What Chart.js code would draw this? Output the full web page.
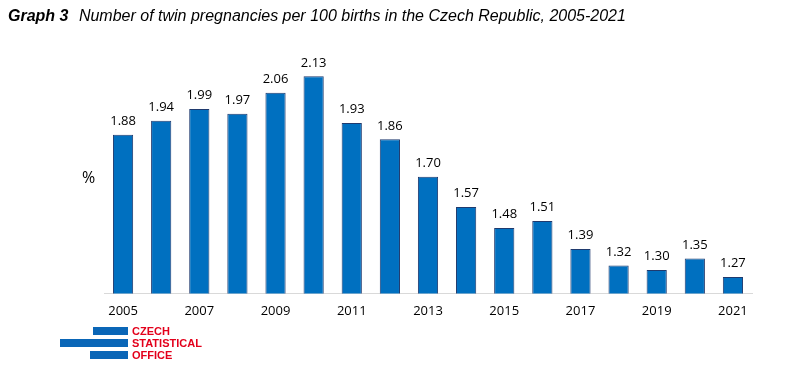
<!DOCTYPE html>
<html>
<head>
<meta charset="utf-8">
<script src="https://cdn.jsdelivr.net/npm/chart.js@4"></script>
<style>
  body { margin: 0; background: #fff; }
  #wrap { position: relative; width: 800px; height: 382px; overflow: hidden; }
  #chart { position: absolute; left: 0; top: 0; }
  .title { position: absolute; left: 8px; top: 7px; font: italic 16px "Liberation Sans", Arial, sans-serif; color: #000; white-space: nowrap; }
  .title b { margin-right: 6px; }
  .unit { position: absolute; left: 82px; top: 166px; font: 16px "Open Sans", sans-serif; color: #000; }
  .logo-bar { position: absolute; background: #0a66b7; height: 8px; }
  .logo-txt { position: absolute; left: 132px; font: bold 11px "Liberation Sans", Arial, sans-serif; color: #e3001b; line-height: 12px; }
</style>
</head>
<body>
<div id="wrap">
  <canvas id="chart" width="800" height="382"></canvas>
  <div class="title"><b>Graph 3</b> Number of twin pregnancies per 100 births in the Czech Republic, 2005-2021</div>
  <div class="unit">%</div>
  <div class="logo-bar" style="left:93px; top:327px; width:35px;"></div>
  <div class="logo-bar" style="left:60px; top:339px; width:68px;"></div>
  <div class="logo-bar" style="left:90px; top:351px; width:38px;"></div>
  <div class="logo-txt" style="top:325px;">CZECH<br>STATISTICAL<br>OFFICE</div>
</div>
<script>
// 数据
const years = ['2005', '2006', '2007', '2008', '2009', '2010', '2011', '2012', '2013',
               '2014', '2015', '2016', '2017', '2018', '2019', '2020', '2021'];
const twinRates = [1.88, 1.94, 1.99, 1.97, 2.06, 2.13, 1.93, 1.86, 1.70,
                   1.57, 1.48, 1.51, 1.39, 1.32, 1.30, 1.35, 1.27];
const yMin = 1.2;
const yMax = 2.2;

// 柱顶数值标签
const valueLabels = {
    id: 'valueLabels',
    afterDatasetsDraw(chart) {
        const ctx = chart.ctx;
        const meta = chart.getDatasetMeta(0);
        ctx.save();
        ctx.font = '13px "Open Sans", sans-serif';
        ctx.fillStyle = '#000';
        ctx.textAlign = 'center';
        ctx.textBaseline = 'bottom';
        meta.data.forEach((bar, i) => {
            ctx.fillText(twinRates[i].toFixed(2), bar.x, bar.y - 7);
        });
        ctx.restore();
    }
};

new Chart(document.getElementById('chart').getContext('2d'), {
    type: 'bar',
    data: {
        labels: years,
        datasets: [{
            data: twinRates,
            backgroundColor: '#0070C0',
            borderColor: '#1F3A6E',
            borderWidth: 1,
            categoryPercentage: 1,
            barPercentage: 0.53
        }]
    },
    options: {
        responsive: false,
        animation: false,
        layout: { padding: { left: 104, right: 48, top: 60, bottom: 53 } },
        plugins: { legend: { display: false }, tooltip: { enabled: false } },
        scales: {
            x: {
                grid: { display: false, drawTicks: false },
                border: { display: true, color: '#d9d9d9', width: 1 },
                ticks: {
                    autoSkip: false,
                    maxRotation: 0,
                    padding: 10,
                    color: '#000',
                    font: { family: '"Open Sans", sans-serif', size: 13 },
                    callback: (v, i) => (i % 2 === 0 ? years[i] : '')
                }
            },
            y: {
                display: false,
                min: yMin,
                max: yMax
            }
        }
    },
    plugins: [valueLabels]
});
</script>
</body>
</html>
